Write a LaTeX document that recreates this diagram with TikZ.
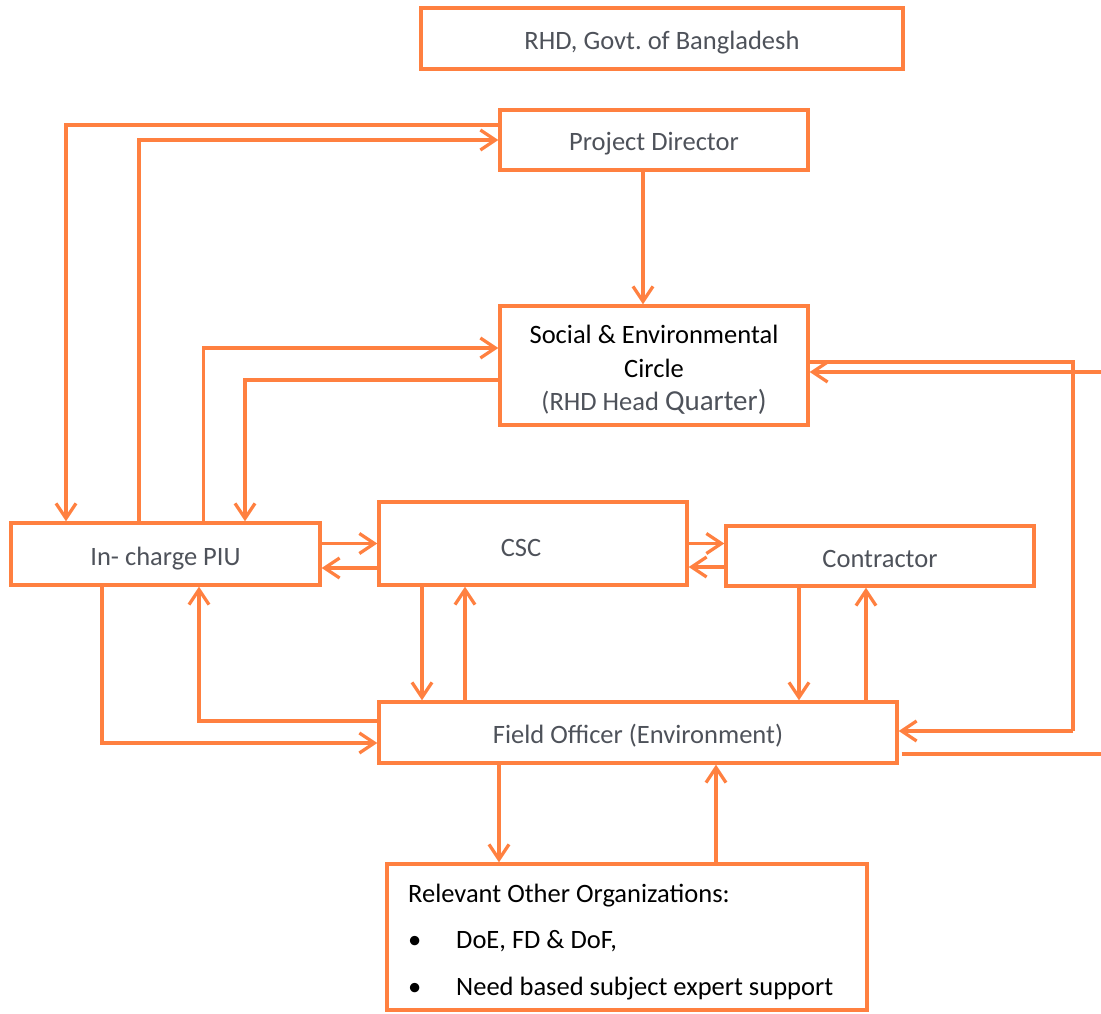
\documentclass[tikz,border=0pt]{standalone}
\usepackage{fontspec}
\setmainfont{Carlito}
\usetikzlibrary{arrows.meta,calc}
\definecolor{orng}{RGB}{255,128,64}
\definecolor{txtgray}{RGB}{78,82,90}
\begin{document}
\begin{tikzpicture}[x=1pt,y=-1pt,
  box/.style={draw=orng,line width=3.3pt,inner sep=0pt,text=txtgray,font=\fontsize{26.5}{30}\selectfont,text height=24pt,text depth=2pt},
  arr/.style={draw=orng,line width=3.3pt,-{Straight Barb[length=15pt,width=20pt]}},
  ln/.style={draw=orng,line width=3.3pt},
  plain/.style={inner sep=0pt,font=\fontsize{26.5}{30}\selectfont,text=black}]
\useasboundingbox (0,0) rectangle (1101,1014);
% boxes
\node[box,minimum width=482pt,minimum height=61pt] (rhd) at (662,38.5) {RHD, Govt.\ of Bangladesh};
\node[box,minimum width=308pt,minimum height=60pt] (pd) at (654,140) {Project Director};
\node[box,minimum width=308pt,minimum height=119pt] (sec) at (654,365.5) {};
\node[plain,align=center,font=\fontsize{26.5}{33.5}\selectfont] (sect) at (654,370) {Social \& Environmental\\Circle\\{\color{txtgray}(RHD Head {\fontsize{29}{33.5}\selectfont Quarter)}}};
\node[box,minimum width=309pt,minimum height=62pt] (piu) at (165.5,554) {In- charge PIU};
\node[box,minimum width=308pt,minimum height=83pt] (csc) at (533,543.5) {};
\node[plain,text=txtgray] (csct) at (521,548) {CSC};
\node[box,minimum width=308pt,minimum height=60pt] (con) at (880,556) {Contractor};
\node[box,minimum width=518pt,minimum height=61pt] (fo) at (638,732.5) {Field Officer (Environment)};
\node[box,minimum width=480pt,minimum height=146pt] (rel) at (627,937) {};
\node[plain,anchor=base west] (r1t) at (408,902) {Relevant Other Organizations:};
\node[plain,anchor=base west] (b1) at (408,948) {\textbullet};
\node[plain,anchor=base west] (r2t) at (456,948) {DoE, FD \& DoF,};
\node[plain,anchor=base west] (b2) at (408,995) {\textbullet};
\node[plain,anchor=base west] (r3t) at (456,995) {Need based subject expert support};
% connectors
\draw[arr] ([yshift=15pt]pd.west) -| ([xshift=-99.5pt]piu.north);
\draw[arr] ([xshift=-26.5pt]piu.north) |- (pd.west);
\draw[arr] ([xshift=38pt]piu.north) |- ([yshift=17.5pt]sec.west);
\draw[arr] ([yshift=-14.5pt]sec.west) -| ([xshift=79.5pt]piu.north);
\draw[arr] ([xshift=-11pt]pd.south) -- ([xshift=-11pt]sec.north);
\draw[arr] (piu.east |- csc.west) -- (csc.west);
\draw[arr] ([yshift=-24.5pt]csc.west) -- ([yshift=-24.5pt]csc.west -| piu.east);
\draw[arr] (csc.east) -- (csc.east -| con.west);
\draw[arr] ([yshift=-11pt]con.west) -- ([yshift=-11pt]con.west -| csc.east);
\draw[arr] ([xshift=-111pt]csc.south) -- ([xshift=-111pt]csc.south |- fo.north);
\draw[arr] ([xshift=-68pt]csc.south |- fo.north) -- ([xshift=-68pt]csc.south);
\draw[arr] ([xshift=-81pt]con.south) -- ([xshift=-81pt]con.south |- fo.north);
\draw[arr] ([xshift=-14pt]con.south |- fo.north) -- ([xshift=-14pt]con.south);
\draw[arr] ([yshift=11.5pt]fo.west) -| ([xshift=33.5pt]piu.south);
\draw[arr] ([xshift=-63.5pt]piu.south) |- ([yshift=-10.5pt]fo.west);
\draw[arr] ([xshift=-139pt]fo.south) -- ([xshift=-139pt]fo.south |- rel.north);
\draw[arr] ([xshift=89pt]rel.north) -- ([xshift=89pt]rel.north |- fo.south);
% right side
\coordinate (rc) at (1073,731);
\coordinate (re1) at (1101,372);
\coordinate (re2) at (1101,754);
\draw[ln] ([yshift=3.5pt]sec.east) -| (rc);
\draw[arr] (rc) -- (rc -| fo.east);
\draw[arr] (re1) -- (re1 -| sec.east);
\draw[ln] ([xshift=3pt]re2 -| fo.east) -- (re2);
\end{tikzpicture}
\end{document}
